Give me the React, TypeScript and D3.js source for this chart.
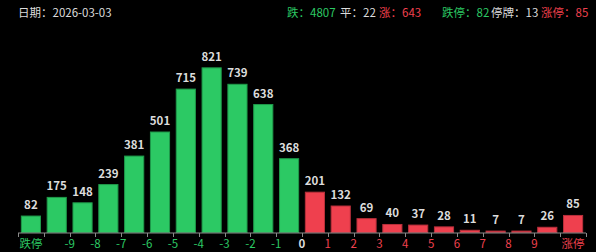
import React from "react";
import * as d3 from "d3";

const categories = ["跌停","-10~-9","-9~-8","-8~-7","-7~-6","-6~-5","-5~-4","-4~-3","-3~-2","-2~-1","-1~0","0~1","1~2","2~3","3~4","4~5","5~6","6~7","7~8","8~9","9~10","涨停"];
const values = [82,175,148,239,381,501,715,821,739,638,368,201,132,69,40,37,28,11,7,7,26,85];
const tickLabels = ["跌停","-9","-8","-7","-6","-5","-4","-3","-2","-1","0","1","2","3","4","5","6","7","8","9","涨停"];
const dateLabel = "日期：2026-03-03";
const summaryLabels = ["跌：", "平：", "涨：", "跌停：", "停牌：", "涨停："];
const summaryValues = [4807, 22, 643, 82, 13, 85];
const summaryKinds = ["down", "flat", "up", "down", "flat", "up"];
const summaryLabelX = [287, 340, 379, 442, 491, 541];

const W = 596, H = 252;
const GREEN = "#2cc964";
const GREEN_STROKE = "#1f9a4a";
const RED = "#ef404e";
const RED_STROKE = "#b8303b";
const GREEN_TXT = "#2cc964";
const RED_TXT = "#ef404e";
const WHITE = "#dcdcdc";
const FONT = "'Noto Sans CJK SC', 'Noto Sans', sans-serif";

export default function App() {
  const x0 = 18, x1 = 586, baseY = 232.5;
  const x = d3.scaleBand<string>().domain(categories).range([x0, x1]).paddingInner(0.22).paddingOuter(0.11);
  const y = d3.scaleLinear().domain([0, 900]).range([baseY, 52]);
  const step = (x1 - x0) / categories.length;
  const splitIdx = 11;
  const colorOf = (k: string) => (k === "down" ? GREEN_TXT : k === "up" ? RED_TXT : WHITE);

  const tickPos = tickLabels.map((_, i) => {
    if (i === 0) return x(categories[0])! + x.bandwidth() / 2;
    if (i === tickLabels.length - 1) return x(categories[categories.length - 1])! + x.bandwidth() / 2;
    return x0 + (i + 1) * step;
  });

  return (
    <svg width={W} height={H} style={{ position: "absolute", left: 0, top: 0, background: "#000" }} fontFamily={FONT}>
      <rect width={W} height={H} fill="#000" />
      <text x={18} y={17} fontSize={11.5} fill={WHITE}>{dateLabel}</text>
      {summaryLabels.map((s, i) => (
        <text key={i} x={summaryLabelX[i]} y={17} fill={colorOf(summaryKinds[i])} fontSize={11.5}>
          {s}{summaryValues[i]}
        </text>
      ))}
      {values.map((v, i) => {
        const up = i >= splitIdx;
        const bx = x(categories[i])!;
        const by = y(v);
        return (
          <g key={i}>
            <rect x={bx + 0.5} y={by} width={x.bandwidth() - 1} height={baseY - by}
              fill={up ? RED : GREEN} stroke={up ? RED_STROKE : GREEN_STROKE} strokeWidth={1} />
            <text x={bx + x.bandwidth() / 2} y={by - 7} fontSize={11.5} fontWeight={600} fill={WHITE} textAnchor="middle">{v}</text>
          </g>
        );
      })}
      <line x1={x0} x2={x1} y1={baseY + 0.5} y2={baseY + 0.5} stroke="#8a8a8a" strokeWidth={1} />
      {d3.range(categories.length + 1).map((i) => (
        <line key={i} x1={Math.round(x0 + i * step) + 0.5} x2={Math.round(x0 + i * step) + 0.5} y1={baseY + 0.5} y2={baseY + 4.5} stroke="#8a8a8a" strokeWidth={1} />
      ))}
      {tickLabels.map((t, i) => {
        const k = i < 10 ? "down" : i === 10 ? "flat" : "up";
        return (
          <text key={i} x={tickPos[i]} y={248} fontSize={11.5} textAnchor="middle" fill={colorOf(k)} fontWeight={i === 10 ? 700 : 400}>{t}</text>
        );
      })}
    </svg>
  );
}
